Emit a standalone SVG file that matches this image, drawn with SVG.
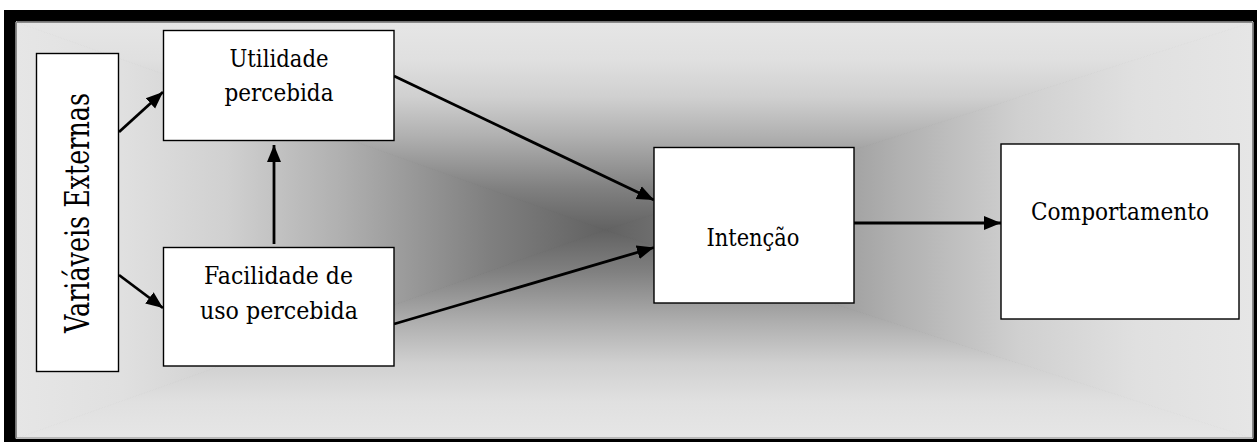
<svg xmlns="http://www.w3.org/2000/svg" width="1257" height="442" viewBox="0 0 1257 442">
  <style>
    .box { fill: #ffffff; stroke: #000000; stroke-width: 1.4; }
    .lbl { font-family: "DejaVu Serif", "Liberation Serif", serif; font-size: 24px; fill: #000000; text-anchor: middle; }
    .conn { stroke: #000000; stroke-width: 2.8; fill: none; marker-end: url(#arrow); }
  </style>
  <defs>
    <marker id="arrow" markerUnits="userSpaceOnUse" markerWidth="18" markerHeight="16" viewBox="0 0 18 16" refX="17" refY="8" orient="auto">
      <path d="M0,1 L17,8 L0,15 Z" fill="#000000"/>
    </marker>
    <linearGradient id="gTop" gradientUnits="userSpaceOnUse" x1="0" y1="22" x2="0" y2="230">
      <stop offset="0" stop-color="#e6e6e6"/>
      <stop offset="0.18" stop-color="#e0e0e0"/>
      <stop offset="0.36" stop-color="#d0d0d0"/>
      <stop offset="0.55" stop-color="#b0b0b0"/>
      <stop offset="0.8" stop-color="#808080"/>
      <stop offset="1" stop-color="#626262"/>
    </linearGradient>
    <linearGradient id="gBot" gradientUnits="userSpaceOnUse" x1="0" y1="438.5" x2="0" y2="230">
      <stop offset="0" stop-color="#e6e6e6"/>
      <stop offset="0.18" stop-color="#e0e0e0"/>
      <stop offset="0.36" stop-color="#d0d0d0"/>
      <stop offset="0.55" stop-color="#b0b0b0"/>
      <stop offset="0.8" stop-color="#808080"/>
      <stop offset="1" stop-color="#626262"/>
    </linearGradient>
    <linearGradient id="gLeft" gradientUnits="userSpaceOnUse" x1="16" y1="0" x2="605" y2="0">
      <stop offset="0" stop-color="#e6e6e6"/>
      <stop offset="0.18" stop-color="#e0e0e0"/>
      <stop offset="0.36" stop-color="#d0d0d0"/>
      <stop offset="0.55" stop-color="#b0b0b0"/>
      <stop offset="0.8" stop-color="#808080"/>
      <stop offset="1" stop-color="#626262"/>
    </linearGradient>
    <linearGradient id="gRight" gradientUnits="userSpaceOnUse" x1="1253" y1="0" x2="605" y2="0">
      <stop offset="0" stop-color="#e6e6e6"/>
      <stop offset="0.18" stop-color="#e0e0e0"/>
      <stop offset="0.36" stop-color="#d0d0d0"/>
      <stop offset="0.55" stop-color="#b0b0b0"/>
      <stop offset="0.8" stop-color="#808080"/>
      <stop offset="1" stop-color="#626262"/>
    </linearGradient>
  </defs>

  <rect x="0" y="0" width="1257" height="442" fill="#ffffff"/>
  <g id="frame">
    <rect x="4" y="10" width="1270" height="450" fill="#000000"/>
    <polygon points="16,22 1253,22 605,230" fill="url(#gTop)" stroke="url(#gTop)" stroke-width="1"/>
    <polygon points="16,438.5 1253,438.5 605,230" fill="url(#gBot)" stroke="url(#gBot)" stroke-width="1"/>
    <polygon points="16,22 16,438.5 605,230" fill="url(#gLeft)" stroke="url(#gLeft)" stroke-width="1"/>
    <polygon points="1253,22 1253,438.5 605,230" fill="url(#gRight)" stroke="url(#gRight)" stroke-width="1"/>
    <rect x="16.5" y="22.5" width="1236" height="415.5" fill="none" stroke="#8a8a8a" stroke-width="1"/>
  </g>

  <g id="connectors">
    <line class="conn" x1="119" y1="132" x2="163" y2="92"/>
    <line class="conn" x1="119" y1="275" x2="163" y2="308"/>
    <line class="conn" x1="274" y1="244" x2="274" y2="145"/>
    <line class="conn" x1="394" y1="76" x2="654" y2="200"/>
    <line class="conn" x1="394" y1="324" x2="654" y2="247.5"/>
    <line class="conn" x1="854" y1="223" x2="1001" y2="223"/>
  </g>

  <g id="node-variaveis">
    <rect class="box" x="36.5" y="53.5" width="82" height="318"/>
    <text class="lbl" transform="translate(88.5,213) rotate(-90)" x="0" y="0" style="font-size:34px" textLength="240" lengthAdjust="spacingAndGlyphs">Variáveis Externas</text>
  </g>

  <g id="node-utilidade">
    <rect class="box" x="163.5" y="30.5" width="230.5" height="110"/>
    <text class="lbl" x="279" y="66.5" textLength="99" lengthAdjust="spacingAndGlyphs">Utilidade</text>
    <text class="lbl" x="279" y="101" textLength="109" lengthAdjust="spacingAndGlyphs">percebida</text>
  </g>

  <g id="node-facilidade">
    <rect class="box" x="163.5" y="247.5" width="230.5" height="118.5"/>
    <text class="lbl" x="278.5" y="283.5" textLength="149" lengthAdjust="spacingAndGlyphs">Facilidade de</text>
    <text class="lbl" x="279" y="319" textLength="158" lengthAdjust="spacingAndGlyphs">uso percebida</text>
  </g>

  <g id="node-intencao">
    <rect class="box" x="654" y="147.5" width="200" height="155.5"/>
    <text class="lbl" x="753" y="246" textLength="93" lengthAdjust="spacingAndGlyphs">Intenção</text>
  </g>

  <g id="node-comportamento">
    <rect class="box" x="1001" y="144" width="238" height="175"/>
    <text class="lbl" x="1120" y="220" textLength="178" lengthAdjust="spacingAndGlyphs">Comportamento</text>
  </g>
</svg>
